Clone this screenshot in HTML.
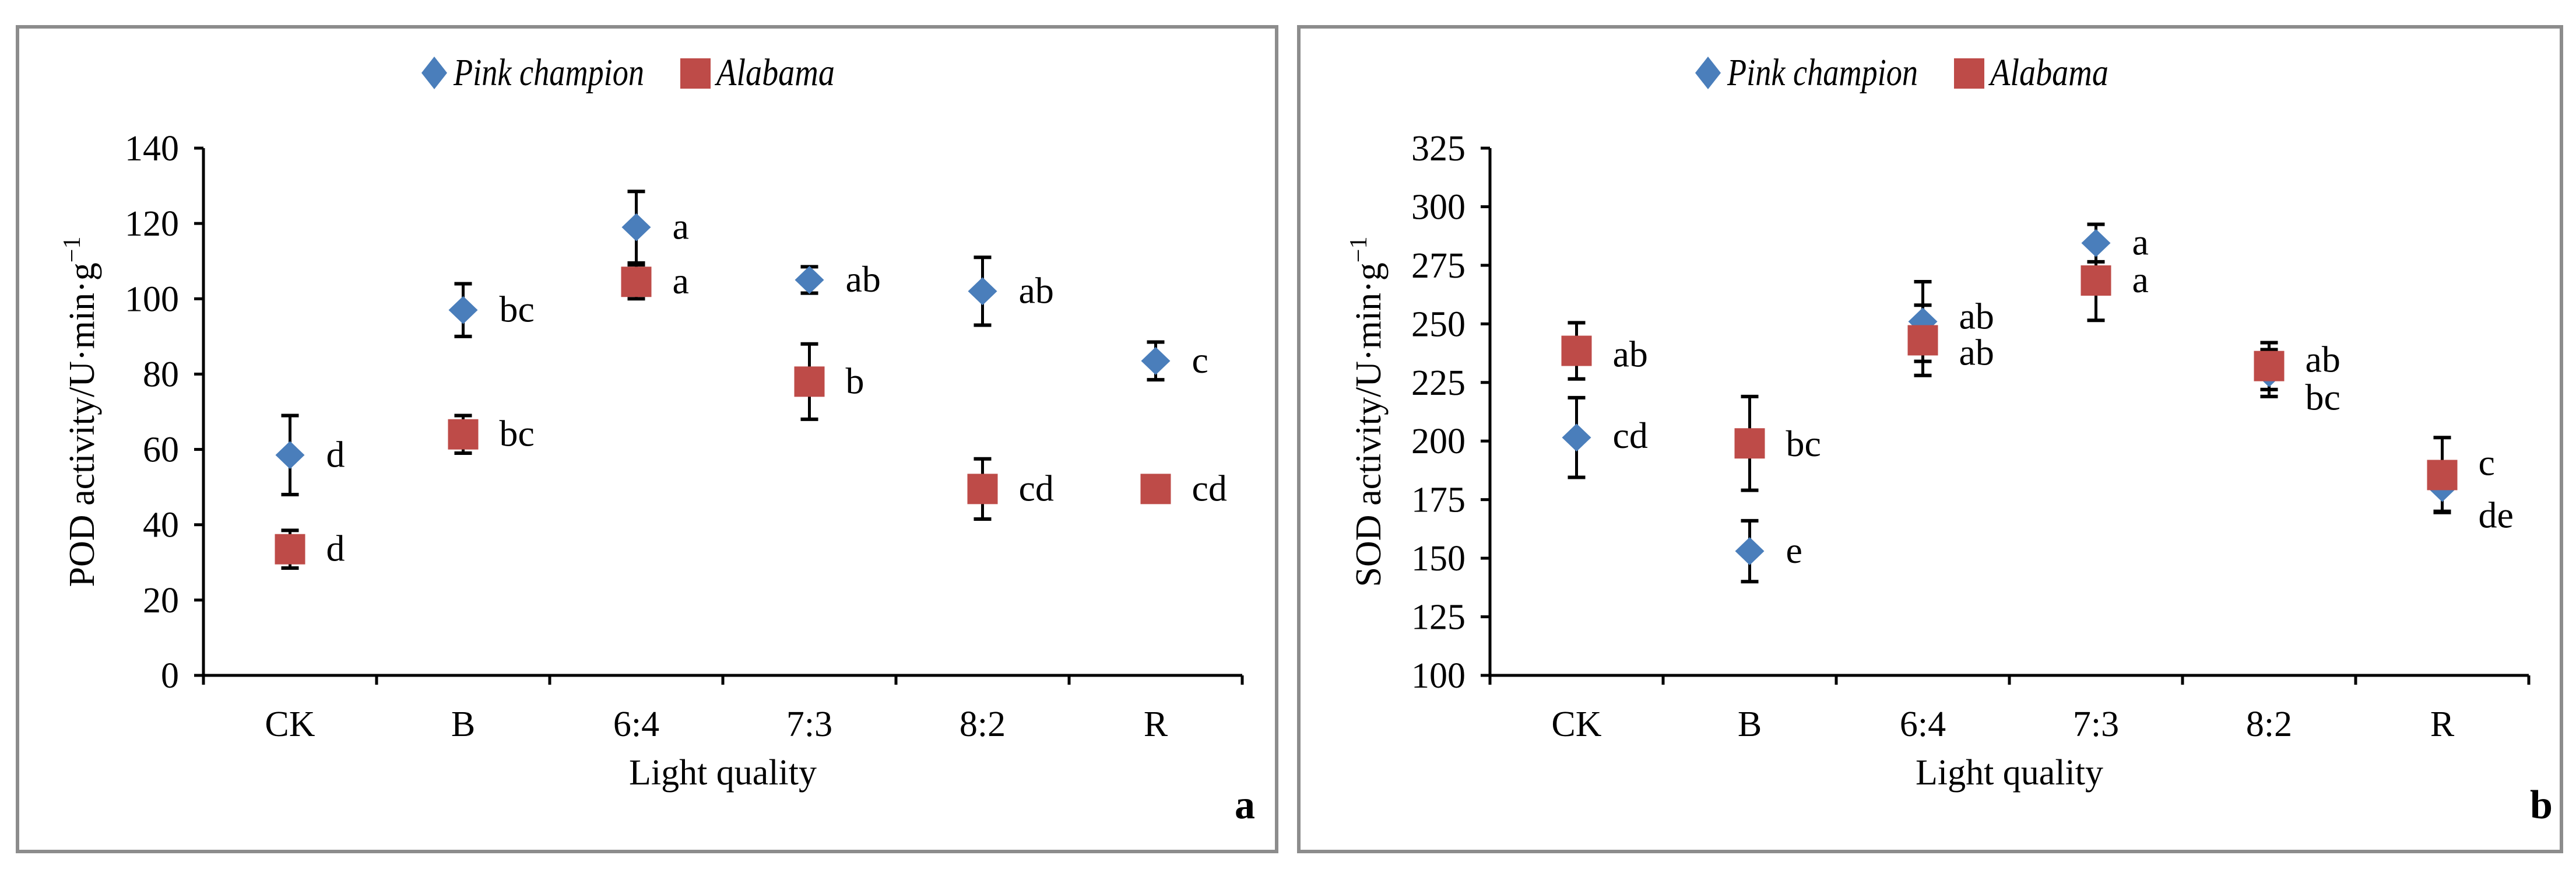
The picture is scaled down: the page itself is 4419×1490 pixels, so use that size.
<!DOCTYPE html>
<html><head><meta charset="utf-8"><style>
html,body{margin:0;padding:0;background:#fff;}
svg{display:block;font-family:"Liberation Serif",serif;}
</style></head><body>
<svg id="chart" width="4419" height="1490" viewBox="0 0 4419 1490">
<rect x="30" y="46" width="2160" height="1414" fill="#fff" stroke="#8c8c8c" stroke-width="6"/>
<rect x="2228" y="46" width="2166" height="1414" fill="#fff" stroke="#8c8c8c" stroke-width="6"/>
<g id="pa"></g><g id="pb"></g>
</svg>
<script>
const categories = ["CK","B","6:4","7:3","8:2","R"];
const podPink = [58.5,97,119,105,102,83.5];
const podPinkErr = [10.5,7,9.5,3.5,9,5];
const podAla = [33.5,64,104.5,78,49.5,49.5];
const podAlaErr = [5,5,4.5,10,8,0];
const podPinkLbl = ["d","bc","a","ab","ab","c"];
const podAlaLbl = ["d","bc","a","b","cd","cd"];
const podTicks = [0,20,40,60,80,100,120,140];
const sodPink = [201.5,153,251,284.5,229,180];
const sodPinkErr = [17,13,17,8,10,10];
const sodAla = [238.5,199,243,268.5,232,185.5];
const sodAlaErr = [12,20,15,17,10,16];
const sodPinkLbl = ["cd","e","ab","a","bc","de"];
const sodAlaLbl = ["ab","bc","ab","a","ab","c"];
const sodTicks = [100,125,150,175,200,225,250,275,300,325];
// label vertical nudges (layout only)
const podPinkDy=[20,20,20,20,20,20], podAlaDy=[20,20,20,20,20,20];
const sodPinkDy=[18,20,12,20,63,68], sodAlaDy=[27,22,42,20,10,0];
const NS="http://www.w3.org/2000/svg";
function mk(p,t,a,txt){const e=document.createElementNS(NS,t);for(const k in a)e.setAttribute(k,a[k]);if(txt!==undefined)e.textContent=txt;p.appendChild(e);return e;}
function panel(g,ax,ymin,ymax,ticks,pink,pe,ala,ae,pl,al,pdy,ady,ytitle,letter,legX,corner){
  const top=254,bot=1158,sp=297;
  const y=v=>bot-(v-ymin)/(ymax-ymin)*(bot-top);
  const x=i=>ax+sp*(i+0.5);
  let e=mk(g,"line",{x1:ax,y1:top,x2:ax,y2:bot,stroke:"#000","stroke-width":5});
  
  e=mk(g,"line",{x1:ax,y1:bot,x2:ax+sp*6,y2:bot,stroke:"#000","stroke-width":5});
  
  ticks.forEach(t=>{mk(g,"line",{x1:ax-16,y1:y(t),x2:ax,y2:y(t),stroke:"#000","stroke-width":5});
    e=mk(g,"text",{x:ax-42,y:y(t)+21,"text-anchor":"end","font-size":62},t);
    });
  for(let i=0;i<=6;i++)mk(g,"line",{x1:ax+sp*i,y1:bot,x2:ax+sp*i,y2:bot+16,stroke:"#000","stroke-width":5});
  categories.forEach((c,i)=>{e=mk(g,"text",{x:x(i),y:bot+104,"text-anchor":"middle","font-size":62},c);
    });
  e=mk(g,"text",{x:ax+sp*3,y:1345,"text-anchor":"middle","font-size":62},"Light quality");
  
  e=mk(g,"text",{x:0,y:0,"text-anchor":"middle","font-size":62,transform:`translate(${ax-188},${(top+bot)/2}) rotate(-90)`});
  e.innerHTML=ytitle+" activity/U·min·g<tspan dy='-24' font-size='42'>−1</tspan>";
  
  function err(xx,v,d){if(d<=0)return;mk(g,"line",{x1:xx,y1:y(v-d),x2:xx,y2:y(v+d),stroke:"#000","stroke-width":5});
    mk(g,"line",{x1:xx-15,y1:y(v-d),x2:xx+15,y2:y(v-d),stroke:"#000","stroke-width":6});
    mk(g,"line",{x1:xx-15,y1:y(v+d),x2:xx+15,y2:y(v+d),stroke:"#000","stroke-width":6});}
  pink.forEach((v,i)=>err(x(i),v,pe[i]));
  ala.forEach((v,i)=>err(x(i),v,ae[i]));
  pink.forEach((v,i)=>{e=mk(g,"path",{d:`M${x(i)},${y(v)-24}L${x(i)+25},${y(v)}L${x(i)},${y(v)+24}L${x(i)-25},${y(v)}Z`,fill:"#4a7ebb"});
    
    e=mk(g,"text",{x:x(i)+62,y:y(v)+pdy[i],"font-size":64},pl[i]);
    });
  ala.forEach((v,i)=>{e=mk(g,"rect",{x:x(i)-26,y:y(v)-26,width:52,height:52,fill:"#be4b48"});
    
    e=mk(g,"text",{x:x(i)+62,y:y(v)+ady[i],"font-size":64},al[i]);
    });
  e=mk(g,"path",{d:`M${legX},97L${legX+22},125L${legX},153L${legX-22},125Z`,fill:"#4a7ebb"});
  
  e=mk(g,"text",{x:legX+33,y:146,"font-size":66,"font-style":"italic",textLength:327,lengthAdjust:"spacingAndGlyphs"},"Pink champion");
  
  e=mk(g,"rect",{x:legX+422,y:100,width:52,height:52,fill:"#be4b48"});
  
  e=mk(g,"text",{x:legX+484,y:146,"font-size":66,"font-style":"italic",textLength:203,lengthAdjust:"spacingAndGlyphs"},"Alabama");
  
  e=mk(g,"text",{x:corner,y:1403,"font-size":70,"font-weight":"bold"},letter);
  
}
panel(document.getElementById("pa"),349,0,140,podTicks,podPink,podPinkErr,podAla,podAlaErr,podPinkLbl,podAlaLbl,podPinkDy,podAlaDy,"POD","a",745,2118);
panel(document.getElementById("pb"),2556,100,325,sodTicks,sodPink,sodPinkErr,sodAla,sodAlaErr,sodPinkLbl,sodAlaLbl,sodPinkDy,sodAlaDy,"SOD","b",2930,4340);
</script>
</body></html>
